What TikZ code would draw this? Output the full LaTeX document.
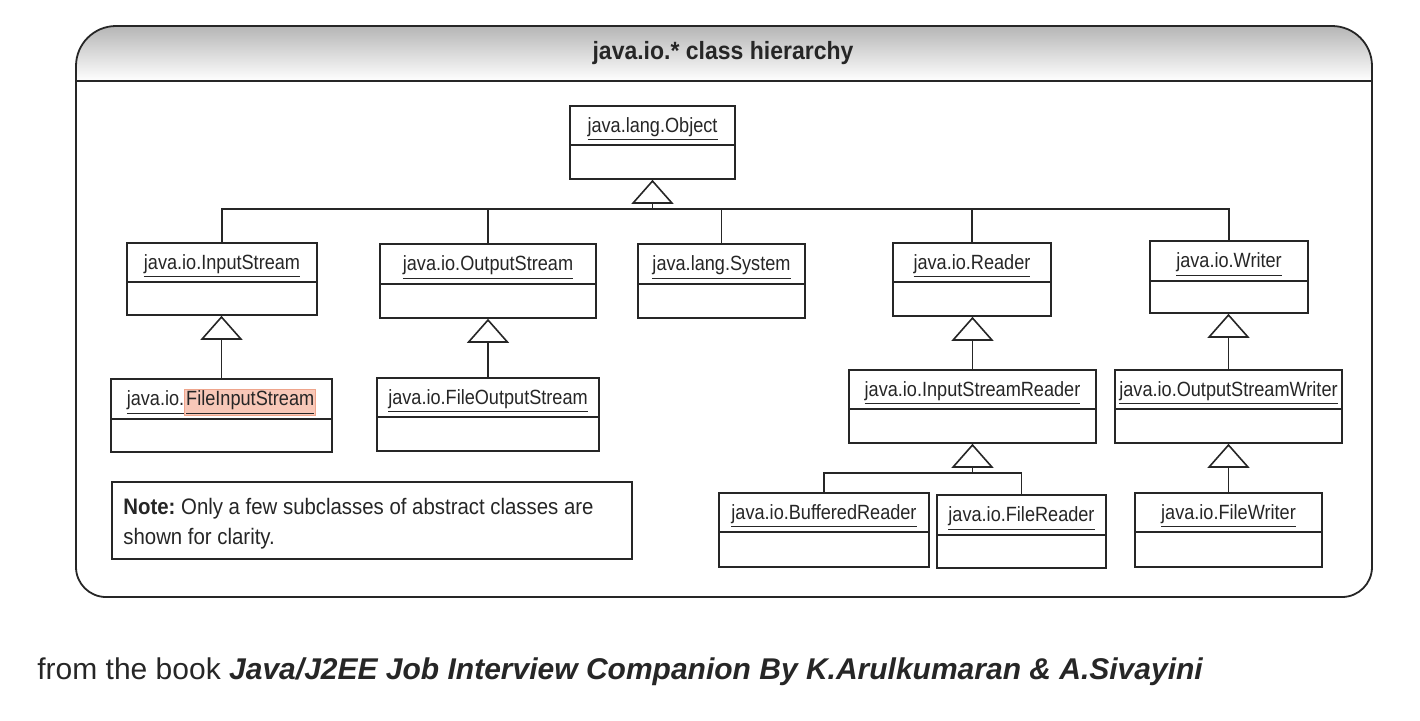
\documentclass[tikz,border=0pt]{standalone}
\usepackage{fontspec}
\setmainfont{Liberation Sans}
\newfontfamily\narrowf[FakeStretch=0.88]{Liberation Sans}
\newfontfamily\notef[FakeStretch=0.91]{Liberation Sans}
\newfontfamily\titlef[FakeStretch=0.92]{Liberation Sans}
\usetikzlibrary{arrows.meta,calc}
\definecolor{hlfill}{HTML}{F8C8B8}
\definecolor{hlborder}{HTML}{EFA58C}
\definecolor{ink}{HTML}{262626}
\newcommand\hlbox[1]{{\setlength\fboxsep{0.6pt}\setlength\fboxrule{0.4pt}\fcolorbox{hlborder}{hlfill}{#1}}}
\newcommand\umlclass[7]{%
  \node[clsbox, minimum width={(#4-#2)*0.5pt}, minimum height={(#5-#3)*0.5pt}] (#1) at ({(#2+#4)/2},{(#3+#5)/2}) {};
  \draw[boxline] (#2,#6) -- (#4,#6);
  \node[clsname] (#1-name) at ({(#2+#4)/2},{(#3+#6)/2+3.5}) {#7};
}
\tikzset{
  boxline/.style={draw=ink, line width=0.8pt},
  clsbox/.style={boxline, rectangle, inner sep=0pt, fill=white},
  clsname/.style={inner sep=0pt, text=ink, font=\narrowf\fontsize{10.3}{12}\selectfont},
  conn/.style={draw=ink, line width=0.7pt},
  inh/.style={conn, -{Triangle[open, length=12pt, width=21pt, line width=0.8pt]}},
  frameline/.style={draw=ink, line width=0.9pt},
}
\begin{document}
\begin{tikzpicture}[x=0.5pt,y=-0.5pt]
\useasboundingbox (0,0) rectangle (1420,720);
% frame
\begin{scope}
  \clip (76,300) [rounded corners=20pt] -- (76,26) -- (1372,26) -- (1372,300) [rounded corners=15pt] -- (1372,597) -- (76,597) -- cycle;
  \shade[top color=black!32, bottom color=white] (70,20) rectangle (1380,81);
\end{scope}
\draw[frameline] (76,300) [rounded corners=20pt] -- (76,26) -- (1372,26) -- (1372,300) [rounded corners=15pt] -- (1372,597) -- (76,597) -- cycle;
\draw[frameline] (76,81) -- (1372,81);
\node[inner sep=0pt, text=ink, font=\titlef\bfseries\fontsize{12.5}{14}\selectfont] (title) at (723,53) {java.io.* class hierarchy};

% classes
\umlclass{obj}{570}{106}{735}{179}{145}{\underline{java.lang.Object}}
\umlclass{is}{127}{243}{317}{315}{282}{\underline{java.io.InputStream}}
\umlclass{os}{380}{244}{596}{318}{284}{\underline{java.io.OutputStream}}
\umlclass{sys}{638}{244}{805}{318}{284}{\underline{java.lang.System}}
\umlclass{rd}{893}{243}{1051}{316}{282}{\underline{java.io.Reader}}
\umlclass{wr}{1150}{241}{1308}{313}{281}{\underline{java.io.Writer}}
\umlclass{fis}{111}{379}{332}{452}{419}{\underline{java.io.}\hlbox{\underline{FileInputStream}}}
\umlclass{fos}{377}{378}{599}{451}{417}{\underline{java.io.FileOutputStream}}
\umlclass{isr}{849}{370}{1096}{443}{409}{\underline{java.io.InputStreamReader}}
\umlclass{osw}{1115}{370}{1342}{443}{409}{\underline{java.io.OutputStreamWriter}}
\umlclass{br}{719}{493}{929}{567}{532}{\underline{java.io.BufferedReader}}
\umlclass{fr}{937}{495}{1106}{568}{535}{\underline{java.io.FileReader}}
\umlclass{fw}{1135}{493}{1322}{567}{532}{\underline{java.io.FileWriter}}

% connectors
\coordinate (bus1) at ($(obj.south)+(0,29)$);
\draw[inh] (bus1) -- (obj.south);
\draw[conn] (is.north) |- (wr.north |- bus1) -- (wr.north);
\foreach \n in {os,sys,rd} \draw[conn] (\n.north) -- (\n.north |- bus1);
\draw[inh] (fis.north) -- (fis.north |- is.south);
\draw[inh] (fos.north) -- (fos.north |- os.south);
\draw[inh] (isr.north) -- (isr.north |- rd.south);
\draw[inh] (osw.north) -- (osw.north |- wr.south);
\coordinate (bus2) at ($(isr.south)+(0,29)$);
\draw[inh] (bus2) -- (isr.south);
\draw[conn] (br.north) |- (fr.north |- bus2) -- (fr.north);
\draw[inh] (fw.north) -- (fw.north |- osw.south);

% note
\node[clsbox, minimum width=260pt, minimum height=38.5pt] (note) at (372,520.5) {};
\node[anchor=west, inner sep=0pt, align=left, text=ink, font=\notef\fontsize{11.2}{15}\selectfont] (notetext) at (123,524) {\textbf{Note:}~Only a few subclasses of abstract classes are\\shown for clarity.};

% footer
\node[anchor=west, inner sep=0pt, text=ink, font=\fontsize{15}{18}\selectfont] (footer) at (37,672) {from the book \textbf{\textit{Java/J2EE Job Interview Companion By K.Arulkumaran \& A.Sivayini}}};
\end{tikzpicture}
\end{document}
